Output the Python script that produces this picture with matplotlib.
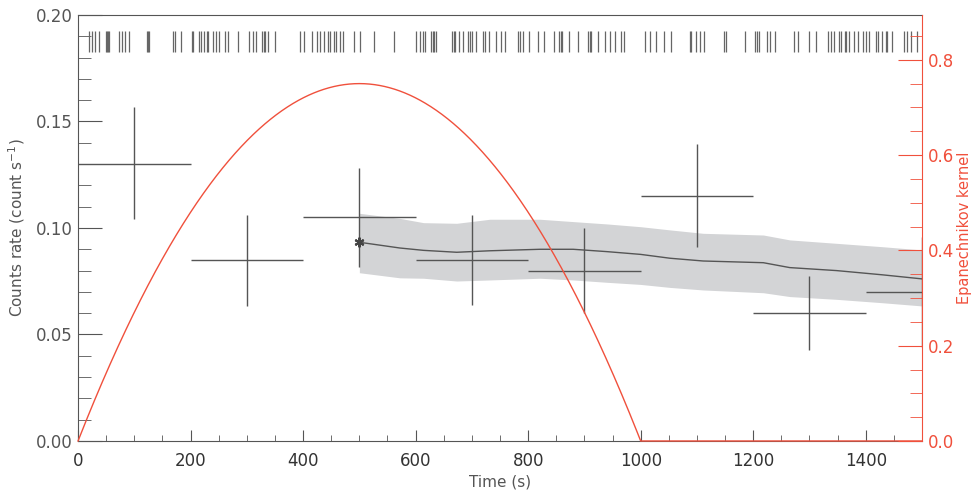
import matplotlib.pyplot as plt
import numpy as np
from matplotlib.ticker import MultipleLocator

# %%
# Data
events = [20.1, 24.9, 30.8, 36.7, 49.8, 51.5, 52.7, 55.7, 72.3, 78.2, 84.1, 90.0,
          122.6, 124.0, 125.6, 169.4, 173.0, 183.0, 202.6, 205.0, 214.4, 218.6,
          224.5, 228.6, 231.0, 240.5, 245.2, 251.2, 261.8, 267.2, 284.9, 303.3,
          311.6, 316.3, 327.0, 329.9, 332.3, 337.0, 350.7,
          395.1, 402.2, 415.8, 424.7, 430.6, 436.6, 443.7, 448.4, 454.3, 459.1,
          465.0, 470.9, 489.9, 500.5, 526.6, 560.9, 601.2, 607.1, 613.1, 617.2,
          627.3, 630.2, 633.2, 636.8, 664.6, 667.6, 670.5, 676.5, 684.1, 693.0,
          696.0, 700.1, 707.8, 719.7, 723.8, 729.8, 743.4,
          751.1, 759.4, 781.9, 784.8, 790.8, 800.8, 817.4, 828.1, 845.9, 854.7,
          857.7, 860.7, 871.9, 888.5, 906.3, 909.2, 912.2, 924.0, 937.1, 944.8,
          954.8, 964.3, 970.2, 1008.2, 1015.9, 1027.7, 1041.3, 1054.4, 1086.9,
          1089.9, 1098.8, 1104.7, 1112.4,
          1147.9, 1152.1, 1185.3, 1203.0, 1207.2, 1210.1, 1224.9, 1229.1, 1238.6,
          1272.3, 1280.0, 1299.0, 1310.8, 1333.3, 1337.5, 1343.4, 1352.3, 1355.3,
          1363.0, 1364.1, 1370.1, 1378.9, 1386.6, 1394.9, 1399.7, 1405.6, 1417.5,
          1422.2, 1429.3, 1436.4, 1438.2, 1445.9, 1467.8, 1473.7, 1479.7, 1491.5]

bin_centers = [100, 300, 500, 700, 900, 1100, 1300, 1500]
bin_halfwidth = [100, 100, 100, 100, 100, 100, 100, 100]
rates = [0.130, 0.085, 0.105, 0.085, 0.080, 0.115, 0.060, 0.070]
err_lo = [0.0256, 0.0215, 0.0235, 0.021, 0.020, 0.024, 0.0175, 0.026]
err_hi = [0.0267, 0.021, 0.023, 0.021, 0.020, 0.0245, 0.0175, 0.026]

band_t = [500, 572, 614, 673, 732, 821, 880, 940, 1000, 1052, 1111, 1218,
          1265, 1348, 1430, 1500]
band_hi = [0.1069, 0.1045, 0.1025, 0.1022, 0.1041, 0.1041, 0.1030, 0.1019,
           0.1006, 0.0991, 0.0975, 0.0967, 0.0944, 0.0928, 0.0912, 0.0897]
band_lo = [0.0790, 0.0766, 0.0764, 0.0751, 0.0756, 0.0764, 0.0756, 0.0745,
           0.0735, 0.0721, 0.0709, 0.0696, 0.0678, 0.0665, 0.0649, 0.0634]
band_mid = [0.0933, 0.0906, 0.0895, 0.0886, 0.0893, 0.0900, 0.0900, 0.0889,
            0.0876, 0.0858, 0.0845, 0.0837, 0.0814, 0.0800, 0.0780, 0.0761]

star_t = 500
star_rate = 0.0935

# Epanechnikov kernel: centre, half width, peak
k_centre = 500
k_half = 500
k_peak = 0.75

# %%
grey = '#555555'
red = '#f0503c'
plt.rcParams['font.family'] = 'DejaVu Sans'
plt.rcParams['font.size'] = 11

fig = plt.figure(figsize=(9.73, 4.98), dpi=100)
ax = fig.add_axes([0.0802, 0.1145, 0.8674, 0.8554])

ax.fill_between(band_t, band_lo, band_hi, color='#d3d4d6', lw=0, zorder=1)
ax.plot(band_t, band_mid, color=grey, lw=1, zorder=2)
ax.plot([star_t], [star_rate], marker=(6, 2, 0), color='#444444', ms=7,
        mew=1.5, zorder=4)

ax.errorbar(bin_centers, rates, xerr=bin_halfwidth, yerr=[err_lo, err_hi],
            fmt='none', ecolor=grey, elinewidth=1, capsize=0, zorder=3)
ax.vlines(events, 0.1826, 0.1925, color='#666666', lw=0.9, zorder=3)

ax.set_xlim(0, 1500)
ax.set_ylim(0, 0.2)
ax.xaxis.set_major_locator(MultipleLocator(200))
ax.xaxis.set_minor_locator(MultipleLocator(50))
ax.yaxis.set_major_locator(MultipleLocator(0.05))
ax.yaxis.set_minor_locator(MultipleLocator(0.01))
ax.yaxis.set_major_formatter(lambda v, p: f'{v:.2f}')
ax.tick_params(axis='x', which='major', direction='in', length=8, color=grey,
               labelcolor='#333333', labelsize=12, pad=8, top=False)
ax.tick_params(axis='x', which='minor', direction='in', length=4, color=grey,
               top=False)
ax.tick_params(axis='y', which='major', direction='in', length=17, color=grey,
               labelcolor=grey, labelsize=12, pad=4, right=False)
ax.tick_params(axis='y', which='minor', direction='in', length=9, color=grey,
               right=False)
for s in ['left', 'bottom', 'top']:
    ax.spines[s].set_color(grey)
ax.spines['right'].set_visible(False)
ax.set_xlabel('Time (s)', color=grey, fontsize=11, labelpad=3)
ax.set_ylabel('Counts rate (count s$^{-1}$)', color=grey, fontsize=11,
              labelpad=6)

# kernel on the right axis
ax2 = ax.twinx()
t = np.linspace(0, 1500, 1501)
kern = np.clip(k_peak * (1 - ((t - k_centre) / k_half) ** 2), 0, None)
ax2.plot(t, kern, color=red, lw=1, clip_on=False, zorder=5)
ax2.set_ylim(0, 0.894)
ax2.yaxis.set_major_locator(MultipleLocator(0.2))
ax2.yaxis.set_minor_locator(MultipleLocator(0.05))
ax2.yaxis.set_major_formatter(lambda v, p: f'{v:.1f}')
ax2.tick_params(axis='y', which='major', direction='in', length=17, color=red,
                labelcolor=red, labelsize=12, pad=4)
ax2.tick_params(axis='y', which='minor', direction='in', length=9, color=red)
for s in ['left', 'bottom', 'top']:
    ax2.spines[s].set_visible(False)
ax2.spines['right'].set_color(red)
ax2.set_ylabel('Epanechnikov kernel', color=red, fontsize=10.5, labelpad=2)

fig.savefig('out.png', dpi=100)
